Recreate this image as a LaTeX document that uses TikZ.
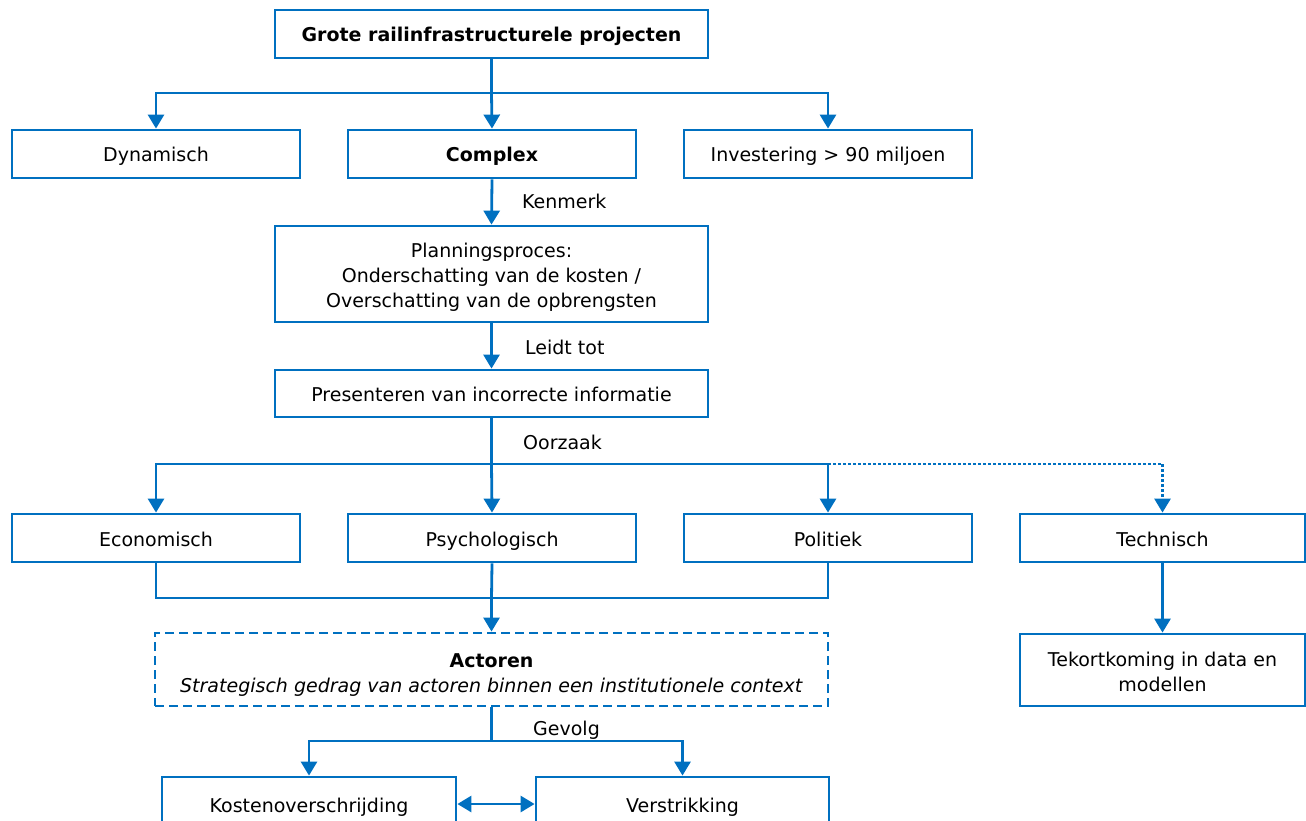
\documentclass[tikz,border=0pt]{standalone}
\usepackage{fontspec}
\setmainfont{DejaVu Sans}
\usetikzlibrary{arrows.meta}
\definecolor{lineblue}{HTML}{0070C0}
\tikzset{
  box/.style={draw=lineblue, line width=2.8pt, fill=white, align=center,
    inner sep=0pt, font=\fontsize{19}{25}\selectfont},
  oneline/.style={text height=18pt, text depth=2pt},
  link/.style={draw=lineblue, line width=2.8pt},
  tip/.style={-{Triangle[width=16pt,length=14pt]}},
  arr/.style={link, tip},
  dblarr/.style={link, {Triangle[width=16pt,length=14pt]}-{Triangle[width=16pt,length=14pt]}},
  lbl/.style={anchor=west, inner sep=0pt, text height=18pt, text depth=2pt,
    font=\fontsize{19}{25}\selectfont},
}
% first-line strut of a given height, to seat multi-line text in its box
\newcommand{\firstline}[1]{\rule{0pt}{#1}}
\begin{document}
\begin{tikzpicture}[x=1pt, y=-1pt]
\useasboundingbox (0,0) rectangle (1306,821);

% main column
\node[box, oneline, minimum width=433, minimum height=48] (top) at (491.5,34) {\textbf{Grote railinfrastructurele projecten}};
\node[box, oneline, minimum width=288, minimum height=48] (dyn) at (156,154) {Dynamisch};
\node[box, oneline, minimum width=288, minimum height=48] (cpx) at (492,154) {\textbf{Complex}};
\node[box, oneline, minimum width=288, minimum height=48] (inv) at (828,154) {Investering > 90 miljoen};
\node[box, minimum width=433, minimum height=96] (plan) at (491.5,274) {\firstline{20.5pt}Planningsproces:\\Onderschatting van de kosten /\\Overschatting van de opbrengsten};
\node[box, oneline, minimum width=433, minimum height=47] (pres) at (491.5,393.5) {Presenteren van incorrecte informatie};
\node[box, oneline, minimum width=288, minimum height=48] (eco) at (156,538) {Economisch};
\node[box, oneline, minimum width=288, minimum height=48] (psy) at (492,538) {Psychologisch};
\node[box, oneline, minimum width=288, minimum height=48] (pol) at (828,538) {Politiek};
\node[box, oneline, minimum width=285, minimum height=48] (tec) at (1162.5,538) {Technisch};
\node[box, minimum width=285, minimum height=72] (tek) at (1162.5,670) {\firstline{17.5pt}Tekortkoming in data en\\modellen};
\node[box, dash pattern=on 9pt off 5pt, minimum width=673, minimum height=73] (act) at (491.5,669.5) {\firstline{24.5pt}\textbf{Actoren}\\\textit{Strategisch gedrag van actoren binnen een institutionele context}};
\node[box, oneline, minimum width=294, minimum height=54] (kos) at (309,804) {Kostenoverschrijding};
\node[box, oneline, minimum width=293, minimum height=54] (ver) at (682.5,804) {Verstrikking};

% labels on the connectors
\node[lbl] (lkenmerk) at (522,201) {Kenmerk};
\node[lbl] (lleidt) at (525,346) {Leidt tot};
\node[lbl] (loorzaak) at (523,441) {Oorzaak};
\node[lbl] (lgevolg) at (533,727) {Gevolg};

% branch points
\coordinate (b1) at (491.5,93);
\coordinate (b2) at (491.5,464);
\coordinate (b3) at (491.5,598);
\coordinate (b4) at (491.5,741);

% top fan-out
\draw[link] (top.south) -- (b1);
\draw[arr] (b1) -| (dyn.north);
\draw[arr] (b1) -- (cpx.north);
\draw[arr] (b1) -| (inv.north);

% column
\draw[arr] (cpx.south) -- (plan.north);
\draw[arr] (plan.south) -- (pres.north);

% causes
\draw[link] (pres.south) -- (b2);
\draw[arr] (b2) -| (eco.north);
\draw[arr] (b2) -- (psy.north);
\draw[arr] (b2) -| (pol.north);
\draw[link, dash pattern=on 2.5pt off 2.5pt] (pol.north |- b2) -- (tec.north |- b2);
\draw[link, dash pattern=on 2.5pt off 2.5pt, tip] (tec.north |- b2) -- (tec.north);
\draw[arr] (tec.south) -- (tek.north);

% merge into actors
\draw[link] (eco.south) |- (b3);
\draw[link] (pol.south) |- (b3);
\draw[link] (psy.south) -- (b3);
\draw[arr] (b3) -- (act.north);

% consequences
\draw[link] (act.south) -- (b4);
\draw[arr] (b4) -| (kos.north);
\draw[arr] (b4) -| (ver.north);
\draw[dblarr] (kos.east) -- (ver.west);
\end{tikzpicture}
\end{document}
